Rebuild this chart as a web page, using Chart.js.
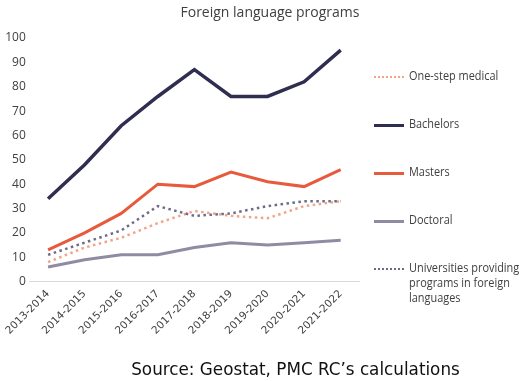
<!DOCTYPE html>
<html>
<head>
<meta charset="utf-8">
<script src="https://cdn.jsdelivr.net/npm/chart.js@4"></script>
<style>
  html, body { margin: 0; padding: 0; background: #fff; }
  #wrap { position: relative; width: 523px; height: 381px; }
  #title { position: absolute; left: 0; top: 2px; width: 540px; text-align: center; font-family: "Open Sans", sans-serif; font-size: 14px; color: #404040; }
  #legend { position: absolute; left: 374px; top: 0; width: 150px; font-family: "Open Sans", sans-serif; font-size: 13px; color: #404040; }
  .item { position: absolute; left: 0; display: flex; align-items: flex-start; }
  .swatch { width: 30px; height: 0; margin-right: 5px; margin-top: 8px; }
  .txt { line-height: 15px; white-space: nowrap; transform: scaleX(0.84); transform-origin: left top; }
  #source { position: absolute; left: 0; width: 523px; top: 359px; text-align: center; padding-left: 68px; box-sizing: border-box; font-family: "DejaVu Sans", sans-serif; font-size: 16.8px; color: #111; }
</style>
</head>
<body>
<div id="wrap">
  <canvas id="lineChart"></canvas>
  <div id="title">Foreign language programs</div>
  <div id="legend"></div>
  <div id="source">Source: Geostat, PMC RC’s calculations</div>
</div>
<script>
var years = ['2013-2014', '2014-2015', '2015-2016', '2016-2017', '2017-2018', '2018-2019', '2019-2020', '2020-2021', '2021-2022'];
var oneStepMedical = [8, 14, 18, 24, 29, 27, 26, 31, 33];
var bachelors = [34, 48, 64, 76, 87, 76, 76, 82, 95];
var masters = [13, 20, 28, 40, 39, 45, 41, 39, 46];
var doctoral = [6, 9, 11, 11, 14, 16, 15, 16, 17];
var universities = [11, 16, 21, 31, 27, 28, 31, 33, 33];
var seriesNames = ['One-step medical', 'Bachelors', 'Masters', 'Doctoral', ['Universities providing', 'programs in foreign', 'languages']];

var datasets = [
    { label: seriesNames[0], data: oneStepMedical, borderColor: '#f2a389', borderWidth: 2.5, borderDash: [2.5, 3.5], order: 4 },
    { label: seriesNames[1], data: bachelors, borderColor: '#2f2e50', borderWidth: 3.5, order: 0 },
    { label: seriesNames[2], data: masters, borderColor: '#e85a3c', borderWidth: 3, order: 1 },
    { label: seriesNames[3], data: doctoral, borderColor: '#8f8ba3', borderWidth: 3, order: 2 },
    { label: seriesNames[4], data: universities, borderColor: '#6c6b88', borderWidth: 2.5, borderDash: [2.5, 3.5], order: 3 }
];
datasets.forEach(function (d) {
    d.pointRadius = 0;
    d.tension = 0;
    d.fill = false;
    d.borderJoinStyle = 'miter';
});

var ctx = document.getElementById('lineChart').getContext('2d');
new Chart(ctx, {
    type: 'line',
    data: { labels: years, datasets: datasets },
    options: {
        responsive: true,
        maintainAspectRatio: false,
        animation: false,
        layout: { padding: { left: 0, right: 164, top: 38, bottom: 38 } },
        plugins: {
            legend: { display: false },
            tooltip: { enabled: false }
        },
        scales: {
            x: {
                offset: true,
                grid: { display: false, drawTicks: false },
                border: { display: true, color: '#d9d9d9', width: 1 },
                ticks: {
                    color: '#404040',
                    font: { family: 'DejaVu Sans', size: 10.5 },
                    maxRotation: 45,
                    minRotation: 45,
                    padding: 6
                }
            },
            y: {
                min: 0,
                max: 100,
                grid: { display: false, drawTicks: false },
                border: { display: false },
                ticks: {
                    stepSize: 10,
                    color: '#404040',
                    font: { family: 'Open Sans', size: 12 },
                    padding: 4
                }
            }
        }
    }
});

// legend drawn as html so the last label can wrap on three lines
var legendTops = [68, 116, 164, 212, 260];
var legend = document.getElementById('legend');
datasets.forEach(function (d, i) {
    var item = document.createElement('div');
    item.className = 'item';
    item.style.top = legendTops[i] + 'px';
    var sw = document.createElement('div');
    sw.className = 'swatch';
    sw.style.borderTop = (d.borderDash ? '2.5px dotted ' : '3px solid ') + d.borderColor;
    var txt = document.createElement('div');
    txt.className = 'txt';
    txt.innerHTML = [].concat(seriesNames[i]).join('<br>');
    item.appendChild(sw);
    item.appendChild(txt);
    legend.appendChild(item);
});
</script>
</body>
</html>
